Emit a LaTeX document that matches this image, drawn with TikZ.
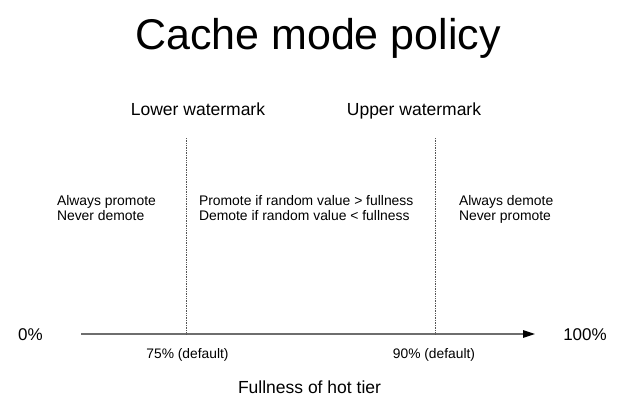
\documentclass[tikz,border=0pt]{standalone}
\usepackage{fontspec}
\setmainfont{Liberation Sans}
\usetikzlibrary{arrows.meta}
\definecolor{axisgray}{HTML}{6E6E6E}
\definecolor{dotgray}{HTML}{555555}
\begin{document}
\begin{tikzpicture}[x=1pt,y=-1pt,
  every node/.style={inner sep=0pt,outer sep=0pt},
  titletext/.style={font=\fontsize{43}{48}\selectfont,anchor=base},
  headtext/.style={font=\fontsize{17.5}{20}\selectfont,anchor=base},
  bodytext/.style={font=\fontsize{13.9}{15.5}\selectfont,anchor=base west,align=left},
  ticktext/.style={font=\fontsize{13.8}{15}\selectfont,anchor=base},
  endtext/.style={font=\fontsize{17}{20}\selectfont,anchor=base},
  axisline/.style={draw=axisgray,line width=1.3pt,-{Triangle[length=12pt,width=7.5pt,color=black]}},
  markline/.style={draw=dotgray,line width=0.7pt,densely dotted}]
\useasboundingbox (0,0) rectangle (623,410);
\node[titletext] (title) at (318,49) {Cache mode policy};
\node[headtext] (lowerlab) at (198,115) {Lower watermark};
\node[headtext] (upperlab) at (414,115) {Upper watermark};
\node[bodytext] (left) at (57,220.5) {Always promote\\Never demote};
\node[bodytext] (mid) at (199,220.5) {Promote if random value > fullness\\Demote if random value < fullness};
\node[bodytext] (right) at (459,220.5) {Always demote\\Never promote};
\coordinate (a0) at (81,334);
\coordinate (a1) at (535,334);
\coordinate (lowtop) at (186,138);
\coordinate (lowbot) at (186,334);
\coordinate (uptop) at (435,138);
\coordinate (upbot) at (435,334);
\draw[axisline] (a0) -- (a1);
\draw[markline] (lowtop) -- (lowbot);
\draw[markline] (uptop) -- (upbot);
\node[endtext] (zero) at (30.5,340) {0\%};
\node[endtext] (hundred) at (585,340.5) {100\%};
\node[ticktext] (t75) at (187.5,358) {75\% (default)};
\node[ticktext] (t90) at (434,358) {90\% (default)};
\node[headtext] (xlabel) at (309.5,393) {Fullness of hot tier};
\end{tikzpicture}
\end{document}
